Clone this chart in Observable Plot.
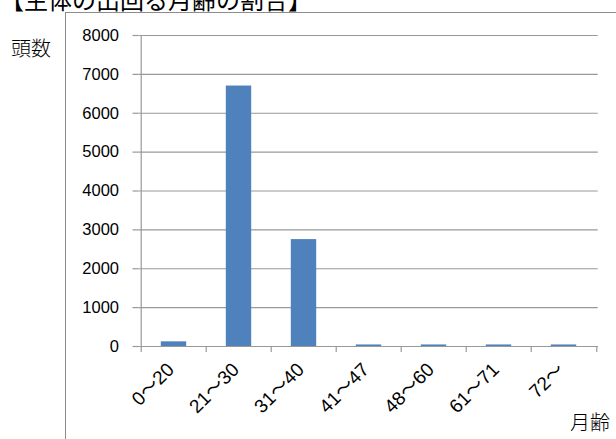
<!DOCTYPE html>
<html><head><meta charset="utf-8">
<script src="https://cdn.jsdelivr.net/npm/d3@7"></script>
<script src="https://cdn.jsdelivr.net/npm/@observablehq/plot@0.6"></script>
<style>
html,body{margin:0;padding:0;background:#fff;}
#wrap{position:relative;width:616px;height:439px;overflow:hidden;background:#fff;}
#wrap svg{position:absolute;left:0;top:0;}
.frame{position:absolute;left:65px;top:12px;width:700px;height:600px;border-top:1.5px solid #8c8c8c;border-left:1.5px solid #8c8c8c;}
.title{position:absolute;left:0;top:-13px;font-family:"Noto Sans CJK JP";font-size:24px;line-height:1;white-space:nowrap;color:#000;}
.lab{position:absolute;font-family:"Noto Sans CJK JP";font-weight:300;font-size:20px;line-height:1;white-space:nowrap;color:#000;}
</style></head>
<body>
<div id="wrap">
  <div class="frame"></div>
  <div class="title">【生体の出回る月齢の割合】</div>
  <div class="lab" id="ylab" style="left:11px;top:38px;">頭数</div>
  <div class="lab" id="xlab" style="left:570px;top:412px;">月齢</div>
</div>
<script>
const categories = ["0～20", "21～30", "31～40", "41～47", "48～60", "61～71", "72～"];
const counts = [120, 6700, 2750, 40, 40, 40, 40];
const yTicks = [0, 1000, 2000, 3000, 4000, 5000, 6000, 7000, 8000];

const data = categories.map((c, i) => ({cat: c, count: counts[i]}));
const W = 616, H = 439;
const ml = 138.5, mr = 18.3, mt = 35, mb = 93;
const step = (W - ml - mr) / categories.length;
const barW = 26;
const inset = (step - barW) / 2;
const gray = "#999";

const chart = Plot.plot({
  width: W, height: H,
  marginLeft: ml, marginRight: mr, marginTop: mt, marginBottom: mb,
  x: {domain: categories, padding: 0},
  y: {domain: [0, 8000]},
  style: {fontFamily: "'Liberation Sans', Arial, sans-serif", fontSize: "16px", background: "transparent", color: "#000", overflow: "visible"},
  marks: [
    Plot.gridY(yTicks, {stroke: gray, strokeOpacity: 1, strokeWidth: 1.2}),
    Plot.axisY(yTicks, {tickSize: 6, tickPadding: 14, stroke: gray, strokeOpacity: 1, strokeWidth: 1.2, label: null, tickFormat: d => String(d), fontSize: 16.5}),
    Plot.barY(data, {x: "cat", y: "count", fill: "#4f81bd", insetLeft: inset, insetRight: inset}),
    Plot.ruleY([0], {stroke: gray, strokeWidth: 1.2}),
    Plot.ruleX(categories, {x: d => d, dx: -step / 2, y1: 0, y2: (d, i) => i === 0 ? 8000 : 0, insetTop: 6, stroke: gray, strokeWidth: 1.2}),
    Plot.ruleX([categories[categories.length - 1]], {x: d => d, dx: step / 2, y1: 0, y2: 0, insetTop: 6, stroke: gray, strokeWidth: 1.2}),
    Plot.axisX({tickSize: 0, tickRotate: -45, tickPadding: 20, dx: -3, label: null, fontSize: 19, fontFamily: "'Liberation Sans', Arial, 'Noto Sans CJK JP', sans-serif"})
  ]
});
document.getElementById("wrap").appendChild(chart);
</script>
</body></html>
